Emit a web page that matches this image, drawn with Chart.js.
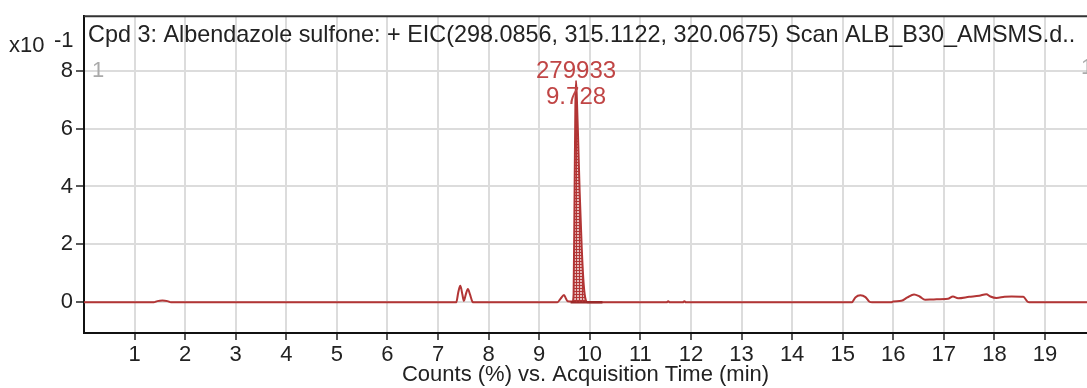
<!DOCTYPE html>
<html>
<head>
<meta charset="utf-8">
<script src="https://cdn.jsdelivr.net/npm/chart.js@4.4.1/dist/chart.umd.min.js"></script>
<style>
  html, body { margin: 0; padding: 0; background: #fff; }
  #wrap { width: 1087px; height: 388px; }
</style>
</head>
<body>
<div id="wrap"><canvas id="eic"></canvas></div>
<script>
// EIC trace, acquisition time (min) vs counts (x10^-1 %)
const traceTime = [0, 1.38, 1.45, 1.55, 1.65, 1.72,
  7.36, 7.40, 7.44, 7.48, 7.51, 7.55, 7.59, 7.63, 7.68, 7.71,
  9.36, 9.42, 9.49, 9.53, 9.56, 9.66,
  9.68, 9.70, 9.715, 9.728, 9.745, 9.77, 9.80, 9.84, 9.88, 9.92, 9.96,
  11.52, 11.55, 11.58, 11.84, 11.87, 11.90,
  15.18, 15.25, 15.35, 15.45, 15.53, 15.58,
  15.96, 16.0, 16.16, 16.28, 16.41, 16.52, 16.63, 16.8, 17.08, 17.18, 17.28,
  17.5, 17.7, 17.84, 17.92, 18.04, 18.2, 18.34, 18.57, 18.65, 18.69, 19.83];
const traceCounts = [0, 0, 0.04, 0.06, 0.04, 0,
  0, 0.35, 0.57, 0.28, 0.05, 0.28, 0.46, 0.28, 0.02, 0,
  0, 0.12, 0.25, 0.12, 0.04, 0.03,
  0.3, 4.0, 6.8, 7.65, 7.0, 5.6, 3.8, 1.9, 0.6, 0.08, 0,
  0, 0.04, 0, 0, 0.04, 0,
  0, 0.17, 0.24, 0.18, 0.02, 0,
  0, 0.03, 0.05, 0.17, 0.27, 0.2, 0.09, 0.1, 0.12, 0.2, 0.14,
  0.19, 0.23, 0.28, 0.2, 0.15, 0.19, 0.2, 0.19, 0.03, 0, 0];

// integrated peak
const peakStart = 9.68;
const peakEnd = 9.92;
const peakArea = '279933';
const peakRt = '9.728';
const integrationBase = [9.62, 10.25];

const xTicks = [1, 2, 3, 4, 5, 6, 7, 8, 9, 10, 11, 12, 13, 14, 15, 16, 17, 18, 19];
const yTicks = [0, 2, 4, 6, 8];

const titleText = 'Cpd 3: Albendazole sulfone: + EIC(298.0856, 315.1122, 320.0675) Scan ALB_B30_AMSMS.d..';
const xTitle = 'Counts (%) vs. Acquisition Time (min)';

const RED = '#b23535';
const FONT = '"Liberation Sans", Arial, sans-serif';

function hatch() {
  const c = document.createElement('canvas');
  c.width = 3; c.height = 3;
  const g = c.getContext('2d');
  g.fillStyle = 'rgba(178,53,53,0.35)';
  g.fillRect(0, 0, 3, 3);
  g.fillStyle = RED;
  g.fillRect(0, 0, 3, 1);
  g.fillRect(0, 0, 1, 3);
  return g.createPattern(c, 'repeat');
}

const trace = traceTime.map((t, i) => ({ x: t, y: traceCounts[i] }));
const peak = trace.filter(p => p.x >= peakStart && p.x <= peakEnd);

const overlay = {
  id: 'overlay',
  afterDraw(chart) {
    const { ctx, chartArea: a, scales } = chart;
    ctx.save();
    // top frame line
    ctx.strokeStyle = '#333';
    ctx.lineWidth = 2;
    ctx.beginPath();
    ctx.moveTo(a.left, a.top);
    ctx.lineTo(a.right, a.top);
    ctx.stroke();

    ctx.textBaseline = 'alphabetic';
    ctx.fillStyle = '#222';
    ctx.font = '23.4px ' + FONT;
    ctx.textAlign = 'left';
    ctx.fillText(titleText, a.left + 4, 42);
    ctx.font = '22px ' + FONT;
    ctx.fillText('x10', 9, 52);
    ctx.fillText('-1', 54, 47);

    ctx.fillStyle = '#aaa';
    ctx.fillText('1', a.left + 8, 77);
    ctx.fillText('1', 1081, 74);

    const px = scales.x.getPixelForValue(9.728);
    ctx.fillStyle = '#c04545';
    ctx.font = '24px ' + FONT;
    ctx.textAlign = 'center';
    ctx.fillText(peakArea, px, 78);
    ctx.fillText(peakRt, px, 104);
    ctx.restore();
  }
};

new Chart(document.getElementById('eic'), {
  type: 'line',
  data: {
    datasets: [
      {
        data: peak,
        borderWidth: 0,
        pointRadius: 0,
        fill: 'origin',
        backgroundColor: hatch(),
        tension: 0
      },
      {
        data: integrationBase.map(t => ({ x: t, y: 0 })),
        borderColor: '#9a2a2a',
        borderWidth: 2.5,
        pointRadius: 0,
        fill: false
      },
      {
        data: trace,
        borderColor: RED,
        borderWidth: 2,
        pointRadius: 0,
        fill: false,
        cubicInterpolationMode: 'monotone'
      }
    ]
  },
  plugins: [overlay],
  options: {
    responsive: true,
    maintainAspectRatio: false,
    animation: false,
    layout: { padding: { top: 13, left: 0, right: 0, bottom: 0 } },
    plugins: { legend: { display: false }, tooltip: { enabled: false } },
    scales: {
      x: {
        type: 'linear',
        min: 0,
        max: 19.83,
        afterBuildTicks: s => { s.ticks = xTicks.map(v => ({ value: v })); },
        afterFit: s => { s.height = 55; },
        grid: { color: '#dcdcdc', lineWidth: 2, tickColor: '#222', tickLength: 7, tickWidth: 1.5 },
        border: { color: '#111', width: 2 },
        ticks: { color: '#222', font: { family: FONT, size: 22 }, padding: 2, maxRotation: 0, autoSkip: false },
        title: { display: true, text: xTitle, color: '#222', font: { family: FONT, size: 22 }, padding: 0 }
      },
      y: {
        min: -1.06,
        max: 9.88,
        afterBuildTicks: s => { s.ticks = yTicks.map(v => ({ value: v })); },
        afterFit: s => { s.width = 84; },
        grid: { color: '#dcdcdc', lineWidth: 2, tickColor: '#222', tickLength: 8, tickWidth: 1.5 },
        border: { color: '#111', width: 2 },
        ticks: { color: '#222', font: { family: FONT, size: 22 }, padding: 3 }
      }
    }
  }
});
</script>
</body>
</html>
